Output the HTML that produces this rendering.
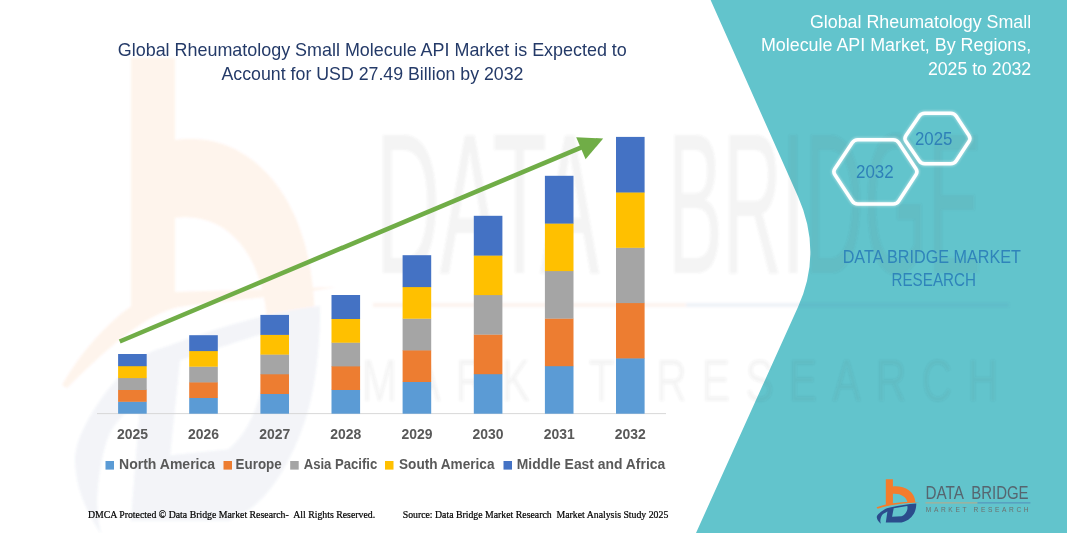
<!DOCTYPE html>
<html lang="en">
<head>
<meta charset="utf-8">
<title>Global Rheumatology Small Molecule API Market</title>
<style>
html,body{margin:0;padding:0;background:#fff;}
body{width:1067px;height:533px;overflow:hidden;position:relative;}
svg{position:absolute;left:0;top:0;display:block;}
text{font-family:"Liberation Sans",sans-serif;}
.ttl{font-size:17.9px;fill:#243a68;}
.rt{font-size:18.3px;fill:#ffffff;}
.yr{font-size:18.6px;fill:#2e80b8;}
.dbm{font-size:17.6px;fill:#2f84ba;}
.ax{font-size:14.2px;font-weight:bold;fill:#595959;}
.lg{font-size:14.1px;font-weight:bold;fill:#595959;}
.ft{font-family:"Liberation Serif",serif;font-size:10.2px;fill:#000;stroke:#000;stroke-width:0.22px;}
.lg1{font-size:19px;fill:#56656f;}
.lg2{font-size:6.6px;fill:#6c706e;}
</style>
</head>
<body>
<svg width="1067" height="533" viewBox="0 0 1067 533">
  <defs>
    <clipPath id="wmclip"><rect x="0" y="58" width="1067" height="475"/></clipPath>
    <filter id="blur1" x="-20%" y="-20%" width="140%" height="140%"><feGaussianBlur stdDeviation="1.2"/></filter>
  </defs>
  <rect x="0" y="0" width="1067" height="533" fill="#ffffff"/>

  <!-- teal panel -->
  <path d="M710.6 0 L798 196.5 Q822.8 252.3 798 307 L696 533 L1067 533 L1067 0 Z" fill="#62c4cc"/>


  <!-- faint stretched logo watermark -->
  <g filter="url(#blur1)">
    <g clip-path="url(#wmclip)" opacity="0.075">
      <g transform="matrix(6.2 0 0 10.5 -5361 -4967.2)">
        <path d="M885.8 470 L892.9 470 L892.9 486.4 C904 485.4 914.6 491 915.4 502.3 L907.7 503.1 C906.6 496.6 900.5 493.2 892.9 493.8 L892.9 501.6 L885.8 503 Z" fill="#f26b2a"/>
      </g>
      <path d="M62 385 C80 354 105 324 133 305 C150 296 165 293 176 292 L336 287 C280 297 220 301 178 307 C150 314 118 337 67 388 Z" fill="#f26b2a"/>
      <g transform="matrix(6.2 0 0 11.3 -5361 -5383.55)">
        <path d="M891 507.2 C888 507.6 885.5 508.8 883.7 509.9 C881.5 511.2 879.6 512.8 878.4 514.1 C877.2 515.4 876.7 516.4 876.8 517.4 C876.9 518.5 877.3 519.5 877.9 520.4 C878.7 521.6 879.8 522.7 881 523.7 C880.3 522.2 880.2 520.7 880.5 519.3 C880.8 517.8 881.3 516.3 882.1 515.1 C883 513.9 884.6 513.1 885.8 512.5 L887.4 511.4 L885.8 522.5 L901.5 522.5 C905 521.8 907.8 520.3 910 518.3 C912 516.5 913.7 514.3 914.7 512 C915.8 509.4 916.3 506.5 916.3 503.5 C908 504 899 505.6 891 507.2 Z M893.7 508.3 L907.3 505.9 C907.7 507.7 907.5 509.4 906.8 510.9 C905.8 513.3 903.9 515.2 901.5 516.2 L892.1 516.7 Z" fill="#4f6ba3" fill-rule="evenodd"/>
      </g>
    </g>
    <text transform="translate(376 273) scale(5.9 11)" y="0" style="font-size:18.2px;fill:#555" opacity="0.07"><tspan x="0" textLength="37.8" lengthAdjust="spacingAndGlyphs">DATA</tspan><tspan> </tspan><tspan x="49.5" textLength="53.2" lengthAdjust="spacingAndGlyphs">BRIDGE</tspan></text>
    <rect x="373" y="303" width="313" height="4" fill="#e08a4c" opacity="0.09"/>
    <rect x="686" y="303" width="323" height="4" fill="#4a7db5" opacity="0.09"/>
    <text transform="translate(362 401) scale(6.2 8.6)" x="0" y="0" textLength="102.6" lengthAdjust="spacing" style="font-size:6.8px;fill:#555" opacity="0.06">MARKET RESEARCH</text>
  </g>

  <!-- titles -->
  <text class="ttl" x="117.8" y="55.7" textLength="509" lengthAdjust="spacingAndGlyphs">Global Rheumatology Small Molecule API Market is Expected to</text>
  <text class="ttl" x="221.5" y="79.7" textLength="302" lengthAdjust="spacingAndGlyphs">Account for USD 27.49 Billion by 2032</text>

  <text class="rt" x="809.9" y="27.6" textLength="221.3" lengthAdjust="spacingAndGlyphs">Global Rheumatology Small</text>
  <text class="rt" x="760.9" y="51" textLength="270.3" lengthAdjust="spacingAndGlyphs">Molecule API Market, By Regions,</text>
  <text class="rt" x="927.9" y="75.3" textLength="103.3" lengthAdjust="spacingAndGlyphs">2025 to 2032</text>

  <!-- hexagons -->
  <g filter="url(#blur1)" opacity="0.35"><path d="M834.9 174.8 Q832.9 171.8 834.9 168.8 L852.2 142.7 Q854.2 139.7 857.8 139.7 L893.2 139.7 Q896.8 139.7 898.8 142.7 L915.9 168.8 Q917.9 171.8 915.9 174.8 L898.8 201.0 Q896.8 204.0 893.2 204.0 L857.8 204.0 Q854.2 204.0 852.2 201.0 Z" fill="none" stroke="#ffffff" stroke-width="5.5"/><path d="M906.0 141.5 Q904.0 138.5 906.0 135.5 L919.2 116.3 Q921.2 113.3 924.8 113.3 L950.7 113.3 Q954.3 113.3 956.3 116.3 L968.9 135.5 Q970.9 138.5 968.9 141.5 L956.3 160.8 Q954.3 163.8 950.7 163.8 L924.8 163.8 Q921.2 163.8 919.2 160.8 Z" fill="none" stroke="#ffffff" stroke-width="5.5"/></g>
  <path d="M834.9 174.8 Q832.9 171.8 834.9 168.8 L852.2 142.7 Q854.2 139.7 857.8 139.7 L893.2 139.7 Q896.8 139.7 898.8 142.7 L915.9 168.8 Q917.9 171.8 915.9 174.8 L898.8 201.0 Q896.8 204.0 893.2 204.0 L857.8 204.0 Q854.2 204.0 852.2 201.0 Z" fill="none" stroke="#ffffff" stroke-width="3.6" stroke-linejoin="round"/>
  <path d="M906.0 141.5 Q904.0 138.5 906.0 135.5 L919.2 116.3 Q921.2 113.3 924.8 113.3 L950.7 113.3 Q954.3 113.3 956.3 116.3 L968.9 135.5 Q970.9 138.5 968.9 141.5 L956.3 160.8 Q954.3 163.8 950.7 163.8 L924.8 163.8 Q921.2 163.8 919.2 160.8 Z" fill="none" stroke="#ffffff" stroke-width="3.6" stroke-linejoin="round"/>
  <text class="yr" x="856" y="178" textLength="37.7" lengthAdjust="spacingAndGlyphs">2032</text>
  <text class="yr" x="915" y="145.4" textLength="37.5" lengthAdjust="spacingAndGlyphs">2025</text>

  <text class="dbm" x="842.7" y="262.6" textLength="178.3" lengthAdjust="spacingAndGlyphs">DATA BRIDGE MARKET</text>
  <text class="dbm" x="891.5" y="286" textLength="84.5" lengthAdjust="spacingAndGlyphs">RESEARCH</text>

  <!-- chart axis -->
  <line x1="97" y1="413.6" x2="666" y2="413.6" stroke="#d4d4d4" stroke-width="0.9"/>
  <g>
    <rect x="118.1" y="401.5" width="28.6" height="12.2" fill="#5b9bd5"/>
    <rect x="118.1" y="389.6" width="28.6" height="12.2" fill="#ed7d31"/>
    <rect x="118.1" y="377.8" width="28.6" height="12.2" fill="#a5a5a5"/>
    <rect x="118.1" y="365.9" width="28.6" height="12.2" fill="#ffc000"/>
    <rect x="118.1" y="354.0" width="28.6" height="12.2" fill="#4472c4"/>
    <rect x="189.2" y="397.8" width="28.6" height="15.9" fill="#5b9bd5"/>
    <rect x="189.2" y="382.1" width="28.6" height="15.9" fill="#ed7d31"/>
    <rect x="189.2" y="366.5" width="28.6" height="15.9" fill="#a5a5a5"/>
    <rect x="189.2" y="350.8" width="28.6" height="15.9" fill="#ffc000"/>
    <rect x="189.2" y="335.2" width="28.6" height="15.9" fill="#4472c4"/>
    <rect x="260.4" y="393.7" width="28.6" height="20.0" fill="#5b9bd5"/>
    <rect x="260.4" y="374.0" width="28.6" height="20.0" fill="#ed7d31"/>
    <rect x="260.4" y="354.3" width="28.6" height="20.0" fill="#a5a5a5"/>
    <rect x="260.4" y="334.6" width="28.6" height="20.0" fill="#ffc000"/>
    <rect x="260.4" y="314.9" width="28.6" height="20.0" fill="#4472c4"/>
    <rect x="331.5" y="389.7" width="28.6" height="24.0" fill="#5b9bd5"/>
    <rect x="331.5" y="366.0" width="28.6" height="24.0" fill="#ed7d31"/>
    <rect x="331.5" y="342.4" width="28.6" height="24.0" fill="#a5a5a5"/>
    <rect x="331.5" y="318.7" width="28.6" height="24.0" fill="#ffc000"/>
    <rect x="331.5" y="295.0" width="28.6" height="24.0" fill="#4472c4"/>
    <rect x="402.6" y="381.8" width="28.6" height="31.9" fill="#5b9bd5"/>
    <rect x="402.6" y="350.1" width="28.6" height="31.9" fill="#ed7d31"/>
    <rect x="402.6" y="318.5" width="28.6" height="31.9" fill="#a5a5a5"/>
    <rect x="402.6" y="286.8" width="28.6" height="31.9" fill="#ffc000"/>
    <rect x="402.6" y="255.2" width="28.6" height="31.9" fill="#4472c4"/>
    <rect x="473.8" y="373.9" width="28.6" height="39.8" fill="#5b9bd5"/>
    <rect x="473.8" y="334.4" width="28.6" height="39.8" fill="#ed7d31"/>
    <rect x="473.8" y="294.8" width="28.6" height="39.8" fill="#a5a5a5"/>
    <rect x="473.8" y="255.3" width="28.6" height="39.8" fill="#ffc000"/>
    <rect x="473.8" y="215.8" width="28.6" height="39.8" fill="#4472c4"/>
    <rect x="544.9" y="365.9" width="28.6" height="47.8" fill="#5b9bd5"/>
    <rect x="544.9" y="318.4" width="28.6" height="47.8" fill="#ed7d31"/>
    <rect x="544.9" y="270.8" width="28.6" height="47.8" fill="#a5a5a5"/>
    <rect x="544.9" y="223.3" width="28.6" height="47.8" fill="#ffc000"/>
    <rect x="544.9" y="175.8" width="28.6" height="47.8" fill="#4472c4"/>
    <rect x="616.0" y="358.1" width="28.6" height="55.6" fill="#5b9bd5"/>
    <rect x="616.0" y="302.8" width="28.6" height="55.6" fill="#ed7d31"/>
    <rect x="616.0" y="247.5" width="28.6" height="55.6" fill="#a5a5a5"/>
    <rect x="616.0" y="192.2" width="28.6" height="55.6" fill="#ffc000"/>
    <rect x="616.0" y="136.9" width="28.6" height="55.6" fill="#4472c4"/>
  </g>
  <g>
    <text class="ax" x="132.4" y="438.5" text-anchor="middle" textLength="31" lengthAdjust="spacingAndGlyphs">2025</text>
    <text class="ax" x="203.5" y="438.5" text-anchor="middle" textLength="31" lengthAdjust="spacingAndGlyphs">2026</text>
    <text class="ax" x="274.7" y="438.5" text-anchor="middle" textLength="31" lengthAdjust="spacingAndGlyphs">2027</text>
    <text class="ax" x="345.8" y="438.5" text-anchor="middle" textLength="31" lengthAdjust="spacingAndGlyphs">2028</text>
    <text class="ax" x="416.9" y="438.5" text-anchor="middle" textLength="31" lengthAdjust="spacingAndGlyphs">2029</text>
    <text class="ax" x="488.1" y="438.5" text-anchor="middle" textLength="31" lengthAdjust="spacingAndGlyphs">2030</text>
    <text class="ax" x="559.2" y="438.5" text-anchor="middle" textLength="31" lengthAdjust="spacingAndGlyphs">2031</text>
    <text class="ax" x="630.3" y="438.5" text-anchor="middle" textLength="31" lengthAdjust="spacingAndGlyphs">2032</text>
  </g>
  <g>
    <rect x="105.5" y="461" width="8.5" height="8.6" fill="#5b9bd5"/>
    <text class="lg" x="119.0" y="468.9" textLength="96.1" lengthAdjust="spacingAndGlyphs">North America</text>
    <rect x="223.5" y="461" width="8.5" height="8.6" fill="#ed7d31"/>
    <text class="lg" x="235.6" y="468.9" textLength="46.1" lengthAdjust="spacingAndGlyphs">Europe</text>
    <rect x="290.2" y="461" width="8.5" height="8.6" fill="#a5a5a5"/>
    <text class="lg" x="303.7" y="468.9" textLength="73.6" lengthAdjust="spacingAndGlyphs">Asia Pacific</text>
    <rect x="385.0" y="461" width="8.5" height="8.6" fill="#ffc000"/>
    <text class="lg" x="399.0" y="468.9" textLength="95.5" lengthAdjust="spacingAndGlyphs">South America</text>
    <rect x="503.5" y="461" width="8.5" height="8.6" fill="#4472c4"/>
    <text class="lg" x="516.8" y="468.9" textLength="148.4" lengthAdjust="spacingAndGlyphs">Middle East and Africa</text>
  </g>

  <!-- arrow -->
  <line x1="119.7" y1="341.5" x2="585" y2="145.8" stroke="#70ad47" stroke-width="4.6"/>
  <polygon points="603.2,138.5 576.2,137.2 585.6,159.2" fill="#70ad47"/>

  <!-- footer -->
  <text class="ft" x="87.9" y="517.8" textLength="287.3" lengthAdjust="spacingAndGlyphs">DMCA Protected © Data Bridge Market Research-&#160; All Rights Reserved.</text>
  <text class="ft" x="402.7" y="517.8" textLength="265.6" lengthAdjust="spacingAndGlyphs">Source: Data Bridge Market Research&#160; Market Analysis Study 2025</text>

  <!-- logo -->
  <g>
    <path d="M885.8 479.2 L892.9 479.2 L892.9 486.4 C904 485.4 914.6 491 915.4 502.3 L907.7 503.1 C906.6 496.6 900.5 493.2 892.9 493.8 L892.9 504.4 L885.8 505.4 Z" fill="#f47c2c"/>
    <path d="M876.6 507.3 C890 502.4 905 501.5 919.8 502.3 C905 502.9 890 504.7 877.6 508.8 Z" fill="#f47c2c"/>
    <path d="M891 507.2 C888 507.6 885.5 508.8 883.7 509.9 C881.5 511.2 879.6 512.8 878.4 514.1 C877.2 515.4 876.7 516.4 876.8 517.4 C876.9 518.5 877.3 519.5 877.9 520.4 C878.7 521.6 879.8 522.7 881 523.7 C880.3 522.2 880.2 520.7 880.5 519.3 C880.8 517.8 881.3 516.3 882.1 515.1 C883 513.9 884.6 513.1 885.8 512.5 L887.4 511.4 L885.8 522.5 L901.5 522.5 C905 521.8 907.8 520.3 910 518.3 C912 516.5 913.7 514.3 914.7 512 C915.8 509.4 916.3 506.5 916.3 503.5 C908 504 899 505.6 891 507.2 Z M893.7 508.3 L907.3 505.9 C907.7 507.7 907.5 509.4 906.8 510.9 C905.8 513.3 903.9 515.2 901.5 516.2 L892.1 516.7 Z" fill="#2b4c8c" fill-rule="evenodd"/>
    <text class="lg1" y="499.1"><tspan x="925.4" textLength="37.6" lengthAdjust="spacingAndGlyphs">DATA</tspan><tspan> </tspan><tspan x="971.2" textLength="57.4" lengthAdjust="spacingAndGlyphs">BRIDGE</tspan></text>
    <line x1="925.5" y1="502.9" x2="977.5" y2="502.9" stroke="#c9a57e" stroke-width="0.9"/>
    <line x1="977.5" y1="502.9" x2="1030.4" y2="502.9" stroke="#4f86b8" stroke-width="0.9"/>
    <text class="lg2" x="925.8" y="511.6" textLength="102.8" lengthAdjust="spacing">MARKET RESEARCH</text>
  </g>
</svg>
</body>
</html>
